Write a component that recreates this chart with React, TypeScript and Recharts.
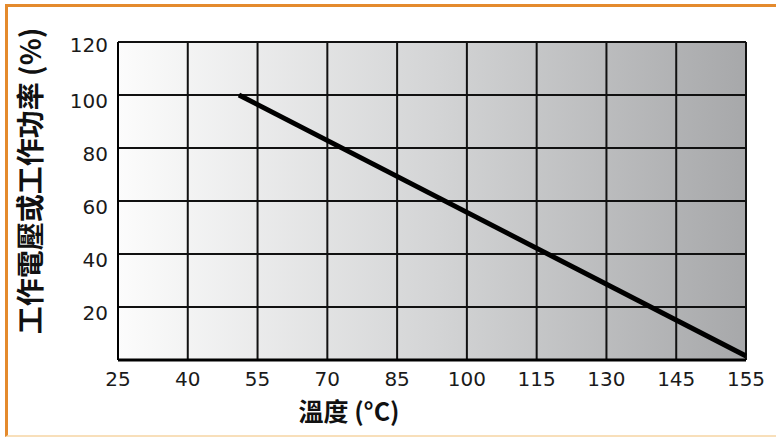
import { CartesianGrid, Line, LineChart, XAxis, YAxis } from "recharts";

// temperature tick labels (evenly spaced on the axis, last step is only 10)
const tempTicks = [25, 40, 55, 70, 85, 100, 115, 130, 145, 155];
const powerTicks = [0, 20, 40, 60, 80, 100, 120];

// derating curve
const curveTemp = [51, 155];
const curvePower = [100, 1.5];

// place a temperature on the evenly spaced tick index scale
function tempToPos(t: number) {
  for (let i = 0; i < tempTicks.length - 1; i++) {
    const a = tempTicks[i];
    const b = tempTicks[i + 1];
    if (t <= b) return i + (t - a) / (b - a);
  }
  return tempTicks.length - 1;
}

const data = curveTemp.map((t, i) => ({ pos: tempToPos(t), power: curvePower[i] }));

const tickFamily = "DejaVu Sans";
const titleFont = '"Noto Sans CJK TC", "Noto Sans CJK SC", sans-serif';

function XTick({ x, y, payload }: any) {
  return (
    <text x={x} y={y + 26} textAnchor="middle" style={{ fontFamily: tickFamily, fontSize: 20 }} fill="#1a1a1a">
      {tempTicks[payload.value]}
    </text>
  );
}

function YTick({ x, y, payload }: any) {
  if (payload.value === 0) return <g />;
  // the top label sits a bit higher than the others in the original
  const dy = payload.value === powerTicks[powerTicks.length - 1] ? 10 : 13;
  return (
    <text x={x - 10} y={y + dy} textAnchor="end" style={{ fontFamily: tickFamily, fontSize: 20 }} fill="#1a1a1a">
      {payload.value}
    </text>
  );
}

export default function App() {
  return (
    <div style={{ position: "absolute", left: 0, top: 0, width: 776, height: 437, background: "#fff" }}>
      <div
        style={{
          position: "absolute",
          left: 5,
          top: 4,
          width: 771,
          height: 433,
          borderTop: "3px solid #e48a2d",
          borderLeft: "3px solid #e48a2d",
          borderBottom: "2px solid #f8dfba",
          boxSizing: "border-box",
        }}
      />
      <LineChart
        width={776}
        height={437}
        data={data}
        margin={{ top: 42, right: 30, bottom: 0, left: 0 }}
        style={{ position: "absolute", left: 0, top: 0 }}
      >
        <defs>
          <linearGradient id="bg" x1="0" y1="0" x2="1" y2="0">
            <stop offset="0%" stopColor="#fcfcfc" />
            <stop offset="50%" stopColor="#d4d5d6" />
            <stop offset="100%" stopColor="#a7a8aa" />
          </linearGradient>
        </defs>
        <CartesianGrid
          fill="url(#bg)"
          stroke="#111"
          strokeWidth={2}
          horizontalValues={powerTicks}
          verticalValues={tempTicks.map((_, i) => i)}
        />
        <XAxis
          type="number"
          dataKey="pos"
          domain={[0, tempTicks.length - 1]}
          ticks={tempTicks.map((_, i) => i)}
          interval={0}
          height={77}
          tickLine={false}
          tickSize={0}
          tickMargin={0}
          axisLine={{ stroke: "#000", strokeWidth: 3 }}
          tick={<XTick />}
          label={{
            content: () => (
              <text x={349} y={421} textAnchor="middle" fontFamily={titleFont} fontWeight={700} fontSize={25} fill="#111">
                溫度 (°C)
              </text>
            ),
          }}
        />
        <YAxis
          type="number"
          domain={[0, 120]}
          ticks={powerTicks}
          width={118}
          tickLine={false}
          tickSize={0}
          tickMargin={0}
          axisLine={{ stroke: "#000", strokeWidth: 2 }}
          tick={<YTick />}
          label={{
            content: () => (
              <text
                x={0}
                y={0}
                transform="translate(41 181) rotate(-90)"
                textAnchor="middle"
                fontFamily={titleFont}
                fontWeight={700}
                fontSize={28}
                fill="#111"
              >
                工作電壓或工作功率 (%)
              </text>
            ),
          }}
        />
        <Line
          type="linear"
          dataKey="power"
          stroke="#000"
          strokeWidth={5}
          dot={false}
          isAnimationActive={false}
        />
      </LineChart>
    </div>
  );
}
